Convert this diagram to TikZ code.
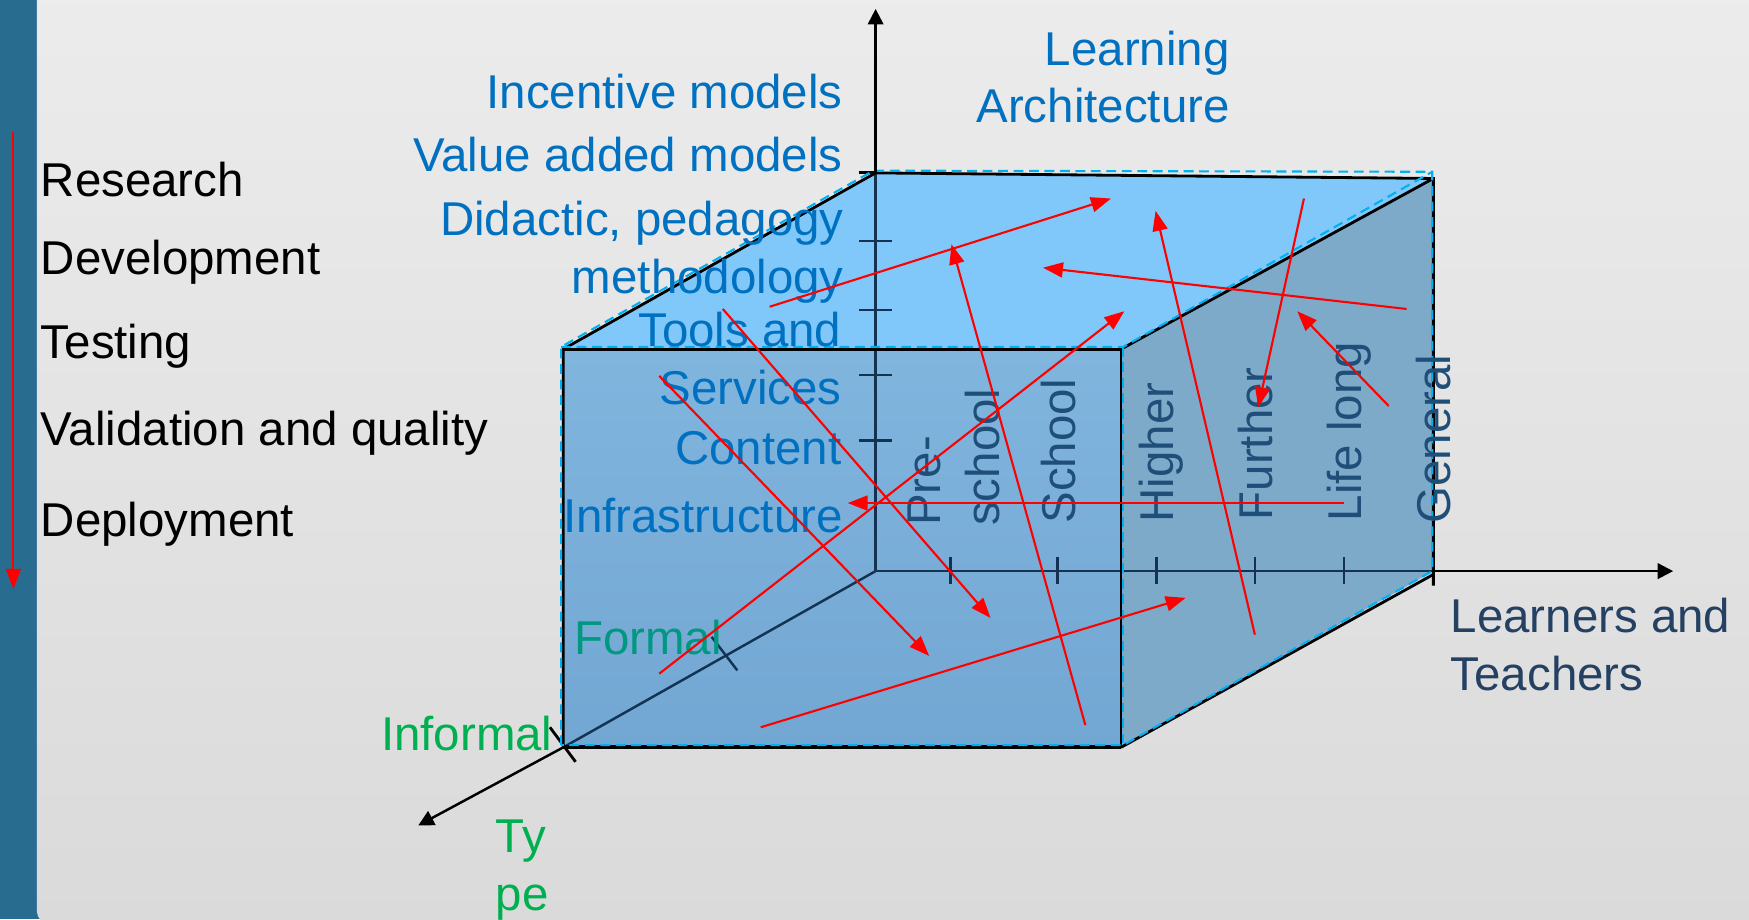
\documentclass[tikz,border=0pt]{standalone}
\usepackage{fontspec}
\setmainfont{Liberation Sans}
\usetikzlibrary{arrows.meta}

\definecolor{stripblue}{RGB}{40,108,144}
\definecolor{labelblue}{RGB}{0,112,192}
\definecolor{leveltext}{RGB}{31,78,121}
\definecolor{learnertext}{RGB}{36,64,98}
\definecolor{topface}{RGB}{128,200,250}
\definecolor{sideface}{RGB}{126,170,202}
\definecolor{hiddenline}{RGB}{20,50,82}
\definecolor{selcyan}{RGB}{0,176,240}
\definecolor{typegreen}{RGB}{0,176,80}
\definecolor{formalteal}{RGB}{0,152,128}

\begin{document}
\begin{tikzpicture}[x=0.011155cm, y=-0.011155cm, >={Triangle[length=0.155cm, width=0.155cm]},
    label text/.style={inner sep=0pt, font=\fontsize{13.5}{16.5}\selectfont},
    red arrow/.style={red, line width=0.6pt, -{Triangle[length=0.2cm, width=0.15cm]}},
    cube edge/.style={black, line width=0.8pt},
    hidden axis/.style={hiddenline, line width=0.7pt},
    axis tick/.style={hiddenline, line width=0.7pt},
    selection/.style={selcyan, line width=0.6pt, dash pattern=on 2.8pt off 1.6pt}]

    % background
    \useasboundingbox (0,0) rectangle (1568,824);
    \clip (0,0) rectangle (1568,824);
    \fill[stripblue] (0,0) rectangle (1568,824);
    \shade[top color={rgb,255:red,236;green,236;blue,236}, middle color={rgb,255:red,250;green,250;blue,250},
        bottom color={rgb,255:red,218;green,218;blue,218}, rounded corners=0.16cm] (33,-20) rectangle (1600,830);

    % cube corners and axis ends
    \coordinate (F1) at (505,670);
    \coordinate (F2) at (1005,670);
    \coordinate (F3) at (1005,313);
    \coordinate (F4) at (505,313);
    \coordinate (B1) at (785,512);
    \coordinate (B2) at (1285,512);
    \coordinate (B3) at (1285,160);
    \coordinate (B4) at (785,155);
    \coordinate (up) at (785,8);
    \coordinate (right) at (1500,512);
    \coordinate (depth) at (375,740);

    % faces
    \fill[topface] (F4) -- (B4) -- (B3) -- (F3) -- cycle;
    \shade[top color={rgb,255:red,128;green,181;blue,222}, bottom color={rgb,255:red,115;green,167;blue,211}] (F4) rectangle (F2);
    \fill[sideface] (F3) -- (B3) -- (B2) -- (F2) -- cycle;

    % axes seen through the cube
    \draw[hidden axis] (B1) -- (B4);
    \draw[hidden axis] (B1) -- (B2);
    \draw[hidden axis] (B1) -- (F1);
    \foreach \y in {216,278,336,395}
        \draw[axis tick] (770,\y) -- (800,\y);
    \foreach \x in {852,948,1037,1125,1205}
        \draw[axis tick] (\x,499) -- (\x,524);
    \draw[axis tick] (638,571) -- (661,601);
    \draw[cube edge] (493,652) -- (516,683);
    \draw[cube edge] (770,155) -- (B4);

    % edges
    \draw[cube edge] (F1) -- (F4) -- (B4) -- (B3) -- (1285,525);
    \draw[cube edge] (F4) -- (F3) -- (F2);
    \draw[cube edge] (F3) -- (B3);
    \draw[cube edge] (F2) -- (1285,515);
    \draw[black, line width=1.1pt] (F1) -- (F2);

    % dashed outline
    \draw[selection] (503,668) -- (503,311) -- (783,153) -- (1284,154) -- (1284,512) -- (1007,668) -- cycle;
    \draw[selection] (503,311) -- (1007,311) -- (1284,154);
    \draw[selection] (1007,311) -- (1007,668);

    % axes
    \draw[->, line width=0.7pt] (B4) -- (up);
    \draw[->, line width=0.7pt] (B2) -- (right);
    \draw[->, line width=0.7pt] (F1) -- (depth);

    % phases
    \node[label text, anchor=base west] (research) at (36,176.5) {Research};
    \node[label text, anchor=base west] (development) at (36,246.5) {Development};
    \node[label text, anchor=base west] (testing) at (36,321) {Testing};
    \node[label text, anchor=base west] (validation) at (36,399) {Validation and quality};
    \node[label text, anchor=base west] (deployment) at (36,481) {Deployment};

    % architecture levels
    \node[label text, labelblue, anchor=base east] (incentive) at (756,97) {Incentive models};
    \node[label text, labelblue, anchor=base east] (valueadded) at (756,154) {Value added models};
    \node[label text, labelblue, anchor=base east] (didactic) at (757,211) {Didactic, pedagogy};
    \node[label text, labelblue, anchor=base east] (methodology) at (757,263) {methodology};
    \node[label text, labelblue, anchor=base east] (tools) at (755,311) {Tools and};
    \node[label text, labelblue, anchor=base east] (services) at (755,363) {Services};
    \node[label text, labelblue, anchor=base east] (content) at (755,416) {Content};
    \node[label text, labelblue, anchor=base east] (infrastructure) at (756,477) {Infrastructure};
    \node[label text, labelblue, anchor=base east] (learning) at (1103,59) {Learning};
    \node[label text, labelblue, anchor=base east] (architecture) at (1103,110) {Architecture};

    % learner levels
    \node[label text, leveltext, rotate=90, anchor=base west] (pre) at (843,472) {Pre-};
    \node[label text, leveltext, rotate=90, anchor=base west] (preschool) at (896,472) {school};
    \node[label text, leveltext, rotate=90, anchor=base west] (school) at (964,470) {School};
    \node[label text, leveltext, rotate=90, anchor=base west] (higher) at (1052,469) {Higher};
    \node[label text, leveltext, rotate=90, anchor=base west] (further) at (1141,467) {Further};
    \node[label text, leveltext, rotate=90, anchor=base west] (lifelong) at (1221,468) {Life long};
    \node[label text, leveltext, rotate=90, anchor=base west] (general) at (1300,470) {General};
    \node[label text, learnertext, anchor=base west] (learners) at (1300,567) {Learners and};
    \node[label text, learnertext, anchor=base west] (teachers) at (1300,619) {Teachers};

    % type
    \node[label text, formalteal, anchor=base west] (formal) at (514,587) {Formal};
    \node[label text, typegreen, anchor=base west] (informal) at (341,673) {Informal};
    \node[label text, typegreen, anchor=base west] (ty) at (444,764) {Ty};
    \node[label text, typegreen, anchor=base west] (pe) at (444,816) {pe};

    % red arrows
    \draw[red arrow] (12,118) -- (12,528);
    \foreach \sx/\sy/\ex/\ey in {690/275/996/178, 973/650/853/219, 1125/569/1036/189, 1169/178/1128/365,
        1261/277/935/240, 1245/364/1163/279, 591/604/1008/279, 1205/451/760/451,
        648/277/888/554, 591/337/833/588, 682/652/1063/536}
        \draw[red arrow] (\sx,\sy) -- (\ex,\ey);

\end{tikzpicture}
\end{document}
